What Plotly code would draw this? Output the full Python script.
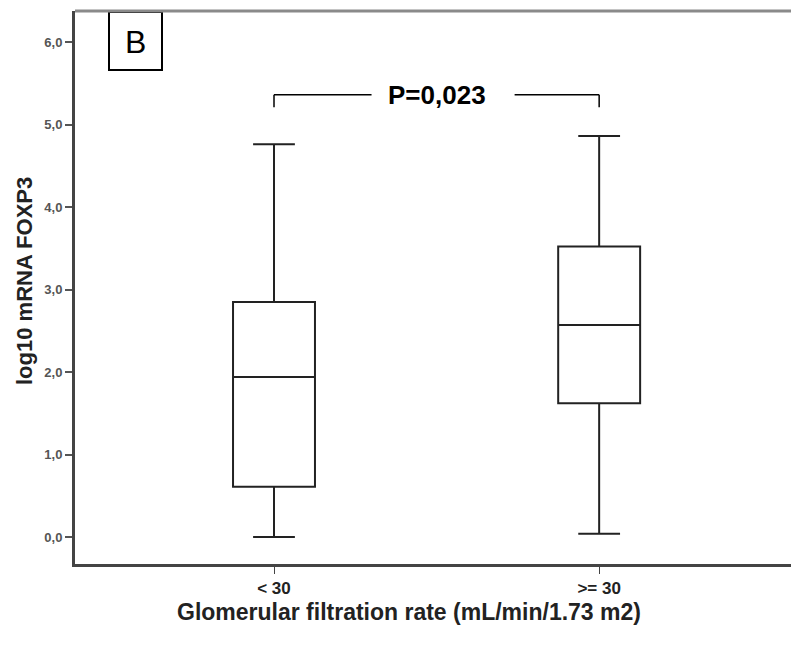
import plotly.graph_objects as go

# ---- data ----
categories = ["< 30", ">= 30"]
lower_fence = [0.00, 0.04]
q1_vals = [0.61, 1.62]
medians = [1.94, 2.57]
q3_vals = [2.85, 3.52]
upper_fence = [4.76, 4.86]
y_tickvals = [0, 1, 2, 3, 4, 5, 6]
y_ticktext = ["0,0", "1,0", "2,0", "3,0", "4,0", "5,0", "6,0"]
p_text = "P=0,023"
panel_label = "B"

FONT = "Arial, Liberation Sans, sans-serif"
W, H = 791, 646
L, R, T, B = 75, 0, 11, 82
pw, ph = W - L - R, H - T - B

def px_x(px):
    return (px - L) / pw

def px_y(py):
    return (H - B - py) / ph

fig = go.Figure()
for i, c in enumerate(categories):
    fig.add_trace(go.Box(
        x=[c], q1=[q1_vals[i]], median=[medians[i]], q3=[q3_vals[i]],
        lowerfence=[lower_fence[i]], upperfence=[upper_fence[i]],
        boxpoints=False, width=0.252, whiskerwidth=0.51,
        fillcolor="white", line=dict(color="#222222", width=2),
        showlegend=False, hoverinfo="skip",
    ))

shapes = []
# top frame line
shapes.append(dict(type="line", xref="paper", yref="paper", x0=0, x1=1.02, y0=1, y1=1,
                   line=dict(color="#8a8a8a", width=3)))
# panel label box
shapes.append(dict(type="rect", xref="paper", yref="paper",
                   x0=px_x(109), x1=px_x(162), y0=px_y(70), y1=px_y(12),
                   line=dict(color="black", width=2), fillcolor="white", layer="below"))
# significance bracket (data coords: category positions 0 and 1)
yb_top, yb_bot = 5.36, 5.21
seg_l_end, seg_r_start = 0.30, 0.74
for x0, x1, y0, y1 in [
    (0, 0, yb_bot, yb_top), (0, seg_l_end, yb_top, yb_top),
    (seg_r_start, 1, yb_top, yb_top), (1, 1, yb_top, yb_bot),
]:
    shapes.append(dict(type="line", xref="x", yref="y", x0=x0, x1=x1, y0=y0, y1=y1,
                       line=dict(color="black", width=1.5)))

annotations = [
    dict(text=panel_label, xref="paper", yref="paper", x=px_x(135), y=px_y(42),
         xanchor="center", yanchor="middle", showarrow=False,
         font=dict(family=FONT, size=32, color="black")),
    dict(text="<b>" + p_text + "</b>", xref="x", yref="y", x=0.50,
         y=yb_top, xanchor="center", yanchor="middle", showarrow=False,
         font=dict(family=FONT, size=26, color="black")),
    dict(text="<b>Glomerular filtration rate (mL/min/1.73 m2)</b>", xref="paper", yref="paper",
         x=px_x(409), y=px_y(612), xanchor="center", yanchor="middle", showarrow=False,
         font=dict(family=FONT, size=23, color="#222222")),
    dict(text="<b>log10 mRNA FOXP3</b>", xref="paper", yref="paper",
         x=px_x(24), y=px_y(281), xanchor="center", yanchor="middle", textangle=-90,
         showarrow=False, font=dict(family=FONT, size=22, color="#222222")),
]

fig.update_layout(
    width=W, height=H, margin=dict(l=L, r=R, t=T, b=B),
    paper_bgcolor="white", plot_bgcolor="white",
    shapes=shapes, annotations=annotations,
    xaxis=dict(type="category", categoryorder="array", categoryarray=categories,
               range=[-0.612, 1.59], showline=True, linecolor="#444444", linewidth=3,
               ticks="outside", ticklen=7, tickcolor="#444444", tickwidth=1,
               showgrid=False, zeroline=False,
               tickfont=dict(family=FONT, size=17, color="#222222"),
               ticktext=["<b>" + c.replace("<", "&lt;").replace(">", "&gt;") + "</b>" for c in categories],
               tickvals=categories),
    yaxis=dict(range=[-0.327, 6.376], showline=True, linecolor="#444444", linewidth=3,
               ticks="outside", ticklen=7, tickcolor="#555555", tickwidth=1.5,
               showgrid=False, zeroline=False,
               tickvals=y_tickvals, ticktext=["<b>" + t + "</b>" for t in y_ticktext],
               tickfont=dict(family=FONT, size=13, color="#555555")),
)

fig.write_html("out.html")
